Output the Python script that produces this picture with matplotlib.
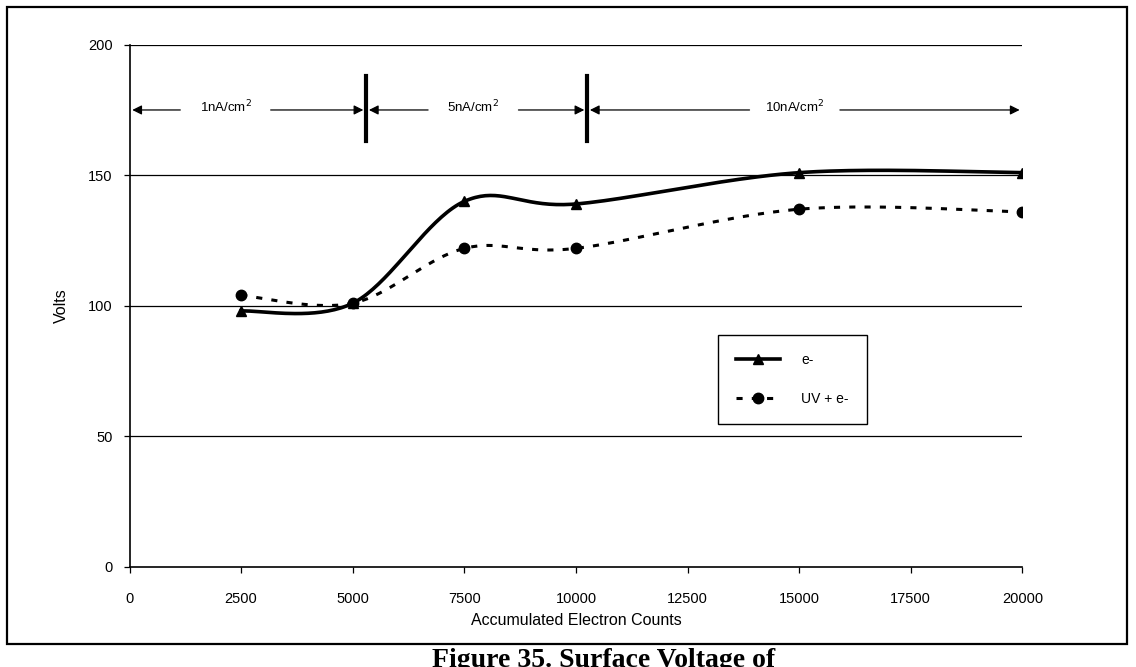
import numpy as np
import matplotlib
matplotlib.use("Agg")
from matplotlib import pyplot as plt
from matplotlib.lines import Line2D
from matplotlib.patches import Rectangle

plt.rcParams['font.family'] = ['Liberation Sans', 'DejaVu Sans']

# data
counts = [2500, 5000, 7500, 10000, 15000, 20000]
volts_e = [98, 101, 140, 139, 151, 151]
volts_uv = [104, 101, 122, 122, 137, 136]

xticks = [0, 2500, 5000, 7500, 10000, 12500, 15000, 17500, 20000]
yticks = [0, 50, 100, 150, 200]

# current density regions (start, end, label, label pos)
regions = [(0, 5300, '1nA/cm$^2$', 2150),
           (5300, 10250, '5nA/cm$^2$', 7700),
           (10250, 20000, '10nA/cm$^2$', 14900)]
region_y = 175


def smooth(x, y, n=40):
    # excel style smoothed line (catmull-rom bezier)
    x = np.asarray(x, float)
    y = np.asarray(y, float)
    px = np.concatenate([[x[0]], x, [x[-1]]])
    py = np.concatenate([[y[0]], y, [y[-1]]])
    xs, ys = [], []
    t = np.linspace(0, 1, n)
    for i in range(1, len(px) - 2):
        p0 = np.array([px[i], py[i]])
        p3 = np.array([px[i + 1], py[i + 1]])
        p1 = p0 + (np.array([px[i + 1], py[i + 1]]) - np.array([px[i - 1], py[i - 1]])) / 6
        p2 = p3 - (np.array([px[i + 2], py[i + 2]]) - np.array([px[i], py[i]])) / 6
        b = ((1 - t) ** 3)[:, None] * p0 + (3 * (1 - t) ** 2 * t)[:, None] * p1 \
            + (3 * (1 - t) * t ** 2)[:, None] * p2 + (t ** 3)[:, None] * p3
        xs.append(b[:, 0])
        ys.append(b[:, 1])
    return np.concatenate(xs), np.concatenate(ys)


fig = plt.figure(figsize=(11.36, 6.67), dpi=100)
ax = fig.add_axes([0.114, 0.15, 0.786, 0.783])

for g in yticks[1:]:
    ax.axhline(g, color='black', lw=0.9, zorder=1)

sx, sy = smooth(counts, volts_e)
ax.plot(sx, sy, color='black', lw=2.6, zorder=3)
ax.plot(counts, volts_e, ls='none', marker='^', ms=7, color='black', zorder=4)

sx, sy = smooth(counts, volts_uv)
ax.plot(sx, sy, color='black', lw=2.2, ls=(0, (2, 3)), zorder=3)
ax.plot(counts, volts_uv, ls='none', marker='o', ms=7.5, color='black', zorder=4)

# region arrows
half = 950
for start, end, label, mid in regions:
    ax.annotate('', xy=(start, region_y), xytext=(mid - half, region_y),
                arrowprops=dict(arrowstyle='-|>', color='black', lw=0.9, mutation_scale=14))
    ax.annotate('', xy=(end, region_y), xytext=(mid + half, region_y),
                arrowprops=dict(arrowstyle='-|>', color='black', lw=0.9, mutation_scale=14))
    ax.text(mid, region_y + 1, label, ha='center', va='center', fontsize=9.5)
for start, end, label, mid in regions[1:]:
    ax.plot([start, start], [163, 188], color='black', lw=3, zorder=5)

ax.set_xlim(0, 20000)
ax.set_ylim(0, 200)
ax.set_xticks(xticks)
ax.set_yticks(yticks)
ax.tick_params(axis='both', direction='out', length=4, width=0.9, labelsize=10.5, color='black')
ax.tick_params(axis='x', pad=14)
ax.tick_params(axis='y', pad=8)
for s in ['top', 'right']:
    ax.spines[s].set_visible(False)
for s in ['left', 'bottom']:
    ax.spines[s].set_linewidth(1.2)
ax.set_xlabel('Accumulated Electron Counts', fontsize=11.5, labelpad=5)
ax.set_ylabel('Volts', fontsize=11.5, labelpad=14)

handles = [Line2D([], [], color='black', lw=2.6, marker='^', ms=7),
           Line2D([], [], color='black', lw=2.2, ls=(0, (2, 3)), marker='o', ms=7.5)]
leg = ax.legend(handles, ['e-', 'UV + e-'], loc='upper left', bbox_to_anchor=(0.651, 0.457),
                fancybox=False, edgecolor='black', framealpha=1, fontsize=10,
                handlelength=3.2, borderpad=1.3, labelspacing=1.8, handletextpad=1.5)
leg.get_frame().set_linewidth(1.0)

# outer frame of the scanned chart
fig.patches.append(Rectangle((0.006, 0.035), 0.986, 0.955, transform=fig.transFigure,
                             fill=False, edgecolor='black', lw=1.6))
fig.text(0.38, 0.01, 'Figure 35. Surface Voltage of', fontsize=20, fontweight='bold',
         family=['Liberation Serif', 'DejaVu Serif'], va='center')

fig.savefig('out.png', dpi=100)
